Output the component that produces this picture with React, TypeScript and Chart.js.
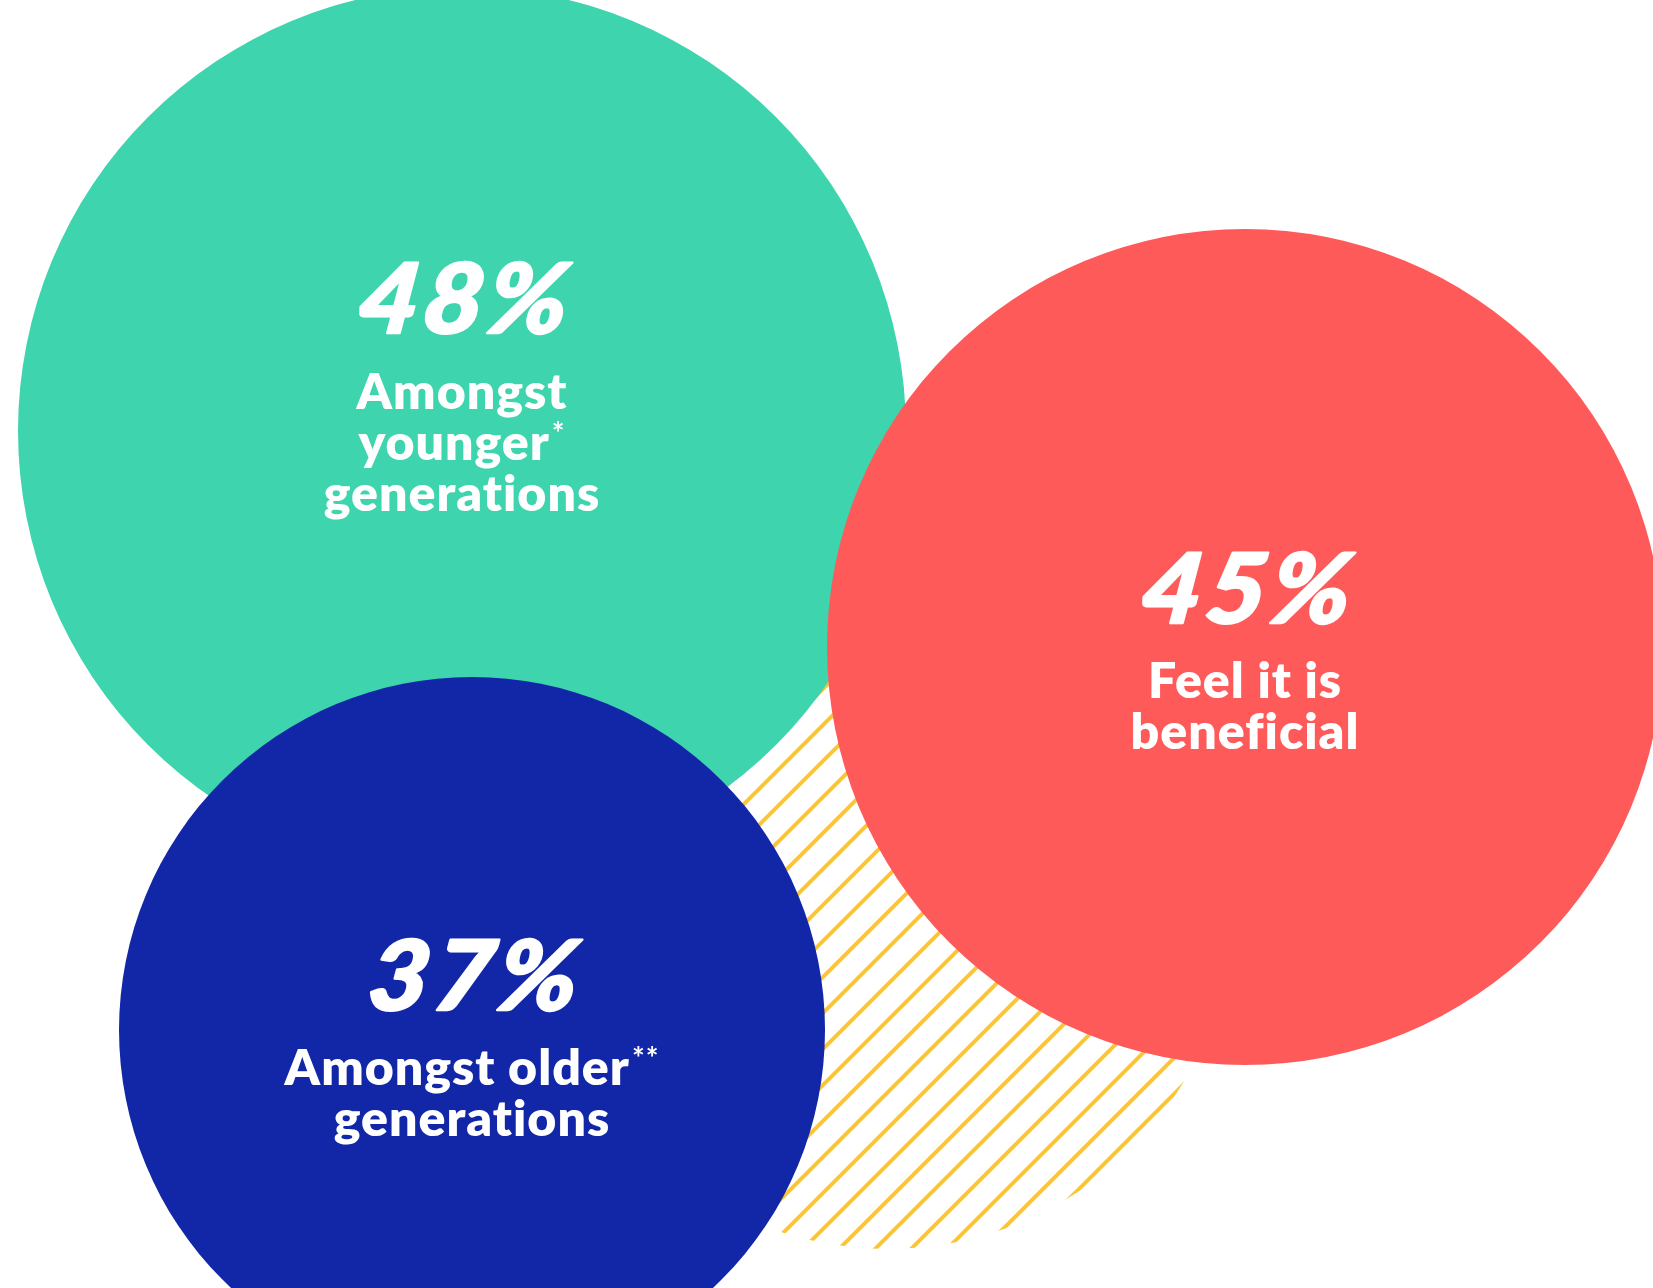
import React, { useEffect, useRef } from "react";
import { Chart, registerables } from "chart.js";

Chart.register(...registerables);

// ---- Data ----
const SERIES_KEYS = ["younger", "older", "beneficial"];
const VALUES = [48, 37, 45];
const LABEL_LINES = [
  ["Amongst", "younger", "generations"],
  ["Amongst older", "generations"],
  ["Feel it is", "beneficial"],
];
const FOOTNOTE_MARKS = [
  ["", "*", ""],
  ["**", ""],
  ["", ""],
];
// bubble centres (axis units) and bubble sizes
const BUBBLE_X = [462, 472, 1245];
const BUBBLE_Y = [431, 1030, 647];
const BUBBLE_SIZE = [444, 353, 418];
// decorative hatched backdrop bubble
const BACKDROP_X = [888];
const BACKDROP_Y = [904];
const BACKDROP_SIZE = [345];

// ---- Styles ----
const COLORS = ["#3DD4AE", "#1226A8", "#FF5A5A"];
const HATCH_COLOR = "#FFC52E";
const NUM_DY = [-98, -20, -24];
const LINE1_DY = [-22, 55, 51];
const LINE_HEIGHT = 51;
const NUM_FONT = "italic 900 97px Lato";
const LABEL_FONT = "800 50px Lato";
const SUP_FONT = "700 30px Lato";

function makeHatch(): CanvasPattern | string {
  const s = 36;
  const c = document.createElement("canvas");
  c.width = s;
  c.height = s;
  const g = c.getContext("2d");
  if (!g) return HATCH_COLOR;
  g.fillStyle = "#ffffff";
  g.fillRect(0, 0, s, s);
  g.strokeStyle = HATCH_COLOR;
  g.lineWidth = 4;
  g.beginPath();
  g.moveTo(-4, s + 4);
  g.lineTo(s + 4, -4);
  g.moveTo(-4, 4);
  g.lineTo(4, -4);
  g.moveTo(s - 4, s + 4);
  g.lineTo(s + 4, s - 4);
  g.stroke();
  return g.createPattern(c, "repeat") || HATCH_COLOR;
}

const labelPlugin = {
  id: "bubbleLabels",
  afterDatasetsDraw(chart: any) {
    const ctx: CanvasRenderingContext2D = chart.ctx;
    const meta = chart.getDatasetMeta(0);
    ctx.save();
    ctx.fillStyle = "#ffffff";
    ctx.strokeStyle = "#ffffff";
    ctx.lineJoin = "round";
    ctx.textBaseline = "alphabetic";
    SERIES_KEYS.forEach((_k, i) => {
      const el = meta.data[i + BACKDROP_X.length];
      if (!el) return;
      const cx = el.x;
      const cy = el.y;
      // big percentage: heavier, wider, more slanted
      ctx.save();
      ctx.translate(cx, cy + NUM_DY[i]);
      ctx.transform(1.07, 0, -0.13, 1, 0, 0);
      ctx.font = NUM_FONT;
      (ctx as any).letterSpacing = "4px";
      ctx.textAlign = "center";
      const txt = VALUES[i] + "%";
      ctx.lineWidth = 2.5;
      ctx.fillText(txt, 0, 0);
      ctx.strokeText(txt, 0, 0);
      ctx.restore();
      // label lines
      (ctx as any).letterSpacing = "1px";
      LABEL_LINES[i].forEach((line, j) => {
        const sup = FOOTNOTE_MARKS[i][j] || "";
        ctx.font = LABEL_FONT;
        const w1 = ctx.measureText(line).width;
        ctx.font = SUP_FONT;
        const w2 = sup ? ctx.measureText(sup).width + 2 : 0;
        const left = cx - (w1 + w2) / 2;
        const by = cy + LINE1_DY[i] + j * LINE_HEIGHT;
        ctx.textAlign = "left";
        ctx.font = LABEL_FONT;
        ctx.fillText(line, left, by);
        if (sup) {
          ctx.font = SUP_FONT;
          ctx.fillText(sup, left + w1 + 2, by - 16);
        }
      });
      (ctx as any).letterSpacing = "0px";
    });
    ctx.restore();
  },
};

export default function App() {
  const canvasRef = useRef<HTMLCanvasElement | null>(null);

  useEffect(() => {
    document.body.style.margin = "0";
    const canvas = canvasRef.current;
    if (!canvas) return;
    const hatch = makeHatch();

    const points = [
      ...BACKDROP_X.map((x, i) => ({ x, y: BACKDROP_Y[i], r: BACKDROP_SIZE[i] })),
      ...BUBBLE_X.map((x, i) => ({ x, y: BUBBLE_Y[i], r: BUBBLE_SIZE[i] })),
    ];
    const bg = [...BACKDROP_X.map(() => hatch), ...COLORS];

    const chart = new Chart(canvas, {
      type: "bubble",
      data: {
        datasets: [
          {
            label: "share",
            data: points as any,
            backgroundColor: bg as any,
            borderWidth: 0,
            hoverBorderWidth: 0,
            clip: false,
          } as any,
        ],
      },
      options: {
        animation: false,
        responsive: true,
        maintainAspectRatio: false,
        events: [],
        layout: { padding: 0, autoPadding: false },
        plugins: { legend: { display: false }, tooltip: { enabled: false } },
        scales: {
          x: { type: "linear", min: 0, max: 1653, display: false },
          y: { type: "linear", min: 0, max: 1288, reverse: true, display: false },
        },
      },
      plugins: [labelPlugin],
    });

    let alive = true;
    if ((document as any).fonts) {
      Promise.all([
        (document as any).fonts.load(NUM_FONT),
        (document as any).fonts.load(LABEL_FONT),
      ]).then(() => {
        if (alive) chart.update();
      }).catch(() => {});
    }

    return () => {
      alive = false;
      chart.destroy();
    };
  }, []);

  return (
    <div style={{ position: "fixed", left: 0, top: 0, width: "100vw", height: "100vh", background: "#ffffff" }}>
      <canvas ref={canvasRef} />
    </div>
  );
}
